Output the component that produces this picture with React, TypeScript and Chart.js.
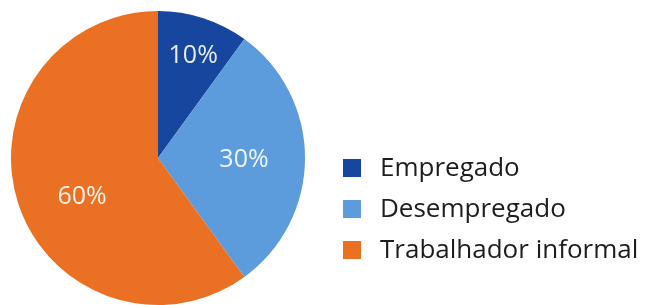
import React, { useEffect, useRef } from "react";
import { Chart, registerables } from "chart.js";

Chart.register(...registerables);

const categories = ["Empregado", "Desempregado", "Trabalhador informal"];
const values = [10, 30, 60];
const valueLabels = ["10%", "30%", "60%"];
const colors = ["#17469e", "#5d9cdc", "#ea7024"];

const FONT = "'Open Sans', 'Noto Sans', sans-serif";

const sliceLabelPlugin = {
  id: "sliceLabels",
  afterDatasetsDraw(chart: any, _args: any, opts: any) {
    const ctx = chart.ctx;
    const meta = chart.getDatasetMeta(0);
    const radii: number[] = opts.radii || [];
    const shifts: number[] = opts.angleShift || [];
    ctx.save();
    ctx.font = `25px ${FONT}`;
    ctx.fillStyle = "rgba(255,255,255,0.9)";
    ctx.textAlign = "center";
    ctx.textBaseline = "middle";
    meta.data.forEach((arc: any, i: number) => {
      const { x, y, startAngle, endAngle, outerRadius } = arc.getProps(
        ["x", "y", "startAngle", "endAngle", "outerRadius"],
        true
      );
      const mid = (startAngle + endAngle) / 2 + ((shifts[i] ?? 0) * Math.PI) / 180;
      const r = outerRadius * (radii[i] ?? 0.6);
      ctx.fillText(valueLabels[i], x + Math.cos(mid) * r, y + Math.sin(mid) * r);
    });
    ctx.restore();
  },
};

const customLegendPlugin = {
  id: "customLegend",
  afterDraw(chart: any, _args: any, opts: any) {
    const ctx = chart.ctx;
    const ds = chart.data.datasets[0];
    const x0 = opts.x;
    const y0 = opts.y;
    const gap = opts.gap;
    const box = opts.box;
    ctx.save();
    ctx.font = `26px ${FONT}`;
    ctx.textBaseline = "middle";
    ctx.textAlign = "left";
    chart.data.labels.forEach((label: string, i: number) => {
      const cy = y0 + i * gap;
      ctx.fillStyle = ds.backgroundColor[i];
      ctx.fillRect(x0, cy - box / 2, box, box);
      ctx.fillStyle = "#1f1c1d";
      ctx.fillText(label, x0 + opts.textOffset, cy + 1);
    });
    ctx.restore();
  },
};

export default function App() {
  const ref = useRef<HTMLCanvasElement | null>(null);

  useEffect(() => {
    document.body.style.margin = "0";
    const chart = new Chart(ref.current as HTMLCanvasElement, {
      type: "pie",
      data: {
        labels: categories,
        datasets: [
          {
            data: values,
            backgroundColor: colors,
            borderWidth: 0,
          },
        ],
      },
      options: {
        animation: false,
        responsive: false,
        layout: { padding: { left: 11, top: 11, bottom: 0, right: 343 } },
        plugins: {
          legend: { display: false },
          tooltip: { enabled: false },
          sliceLabels: { radii: [0.735, 0.585, 0.58], angleShift: [1, 1, -9] },
          customLegend: { x: 343, y: 168, gap: 41, box: 18, textOffset: 37 },
        } as any,
      },
      plugins: [sliceLabelPlugin, customLegendPlugin],
    });
    return () => chart.destroy();
  }, []);

  return (
    <div style={{ position: "absolute", left: 0, top: 0, width: 648, height: 305, background: "#fff" }}>
      <canvas ref={ref} width={648} height={305} />
    </div>
  );
}
